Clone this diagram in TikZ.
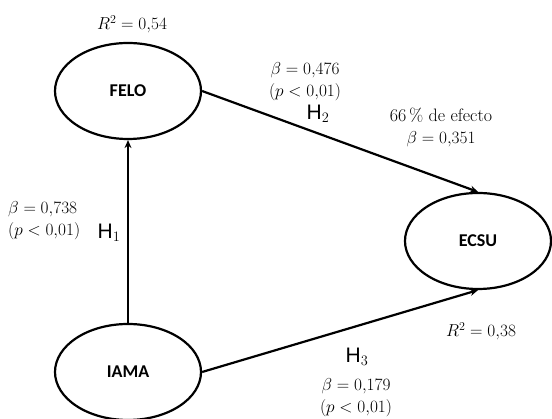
\documentclass[tikz,border=0pt]{standalone}
\usepackage{fontspec}
\newfontfamily\varfont{Carlito}
\newfontfamily\hypfont{Liberation Sans}
\usetikzlibrary{shapes.geometric,arrows.meta}

\begin{document}
\begin{tikzpicture}
  [x=1pt,y=-1pt,
   var/.style={ellipse,draw,line width=2.2pt,minimum width=146pt,minimum height=96pt,
     inner sep=0pt,font=\varfont\bfseries\fontsize{18}{20}\selectfont},
   lbl/.style={inner sep=0pt,align=center,font=\fontsize{18}{22}\selectfont},
   hyp/.style={inner sep=0pt,font=\hypfont\fontsize{21}{24}\selectfont},
   path/.style={line width=2.2pt,-{Stealth[length=8pt,width=7pt]}}]
  \useasboundingbox (0,0) rectangle (552,419);
  \node[var] (felo) at (128,91) {FELO};
  \node[var] (iama) at (128,372) {IAMA};
  \node[var] (ecsu) at (478,241) {ECSU};
  \foreach \from/\to in {iama.north/felo.south,felo.east/ecsu.north,iama.east/ecsu.south}
    \draw[path] (\from) -- (\to);
  \node[lbl] (r2felo) at (132,24) {$R^2=0{,}54$};
  \node[lbl] (b2) at (305,82) {$\beta=0{,}476$\\$(p<0{,}01)$};
  \node[hyp] (h2) at (318,114) {H$_2$};
  \node[lbl] (eff) at (441,127) {66\,\% de efecto\\$\beta=0{,}351$};
  \node[lbl,align=left,anchor=west] (b1) at (8,221) {$\beta=0{,}738$\\$(p<0{,}01)$};
  \node[hyp] (h1) at (109,233) {H$_1$};
  \node[lbl] (r2ecsu) at (481,331) {$R^2=0{,}38$};
  \node[hyp] (h3) at (357,357) {H$_3$};
  \node[lbl] (b3) at (356,398) {$\beta=0{,}179$\\$(p<0{,}01)$};
\end{tikzpicture}
\end{document}
